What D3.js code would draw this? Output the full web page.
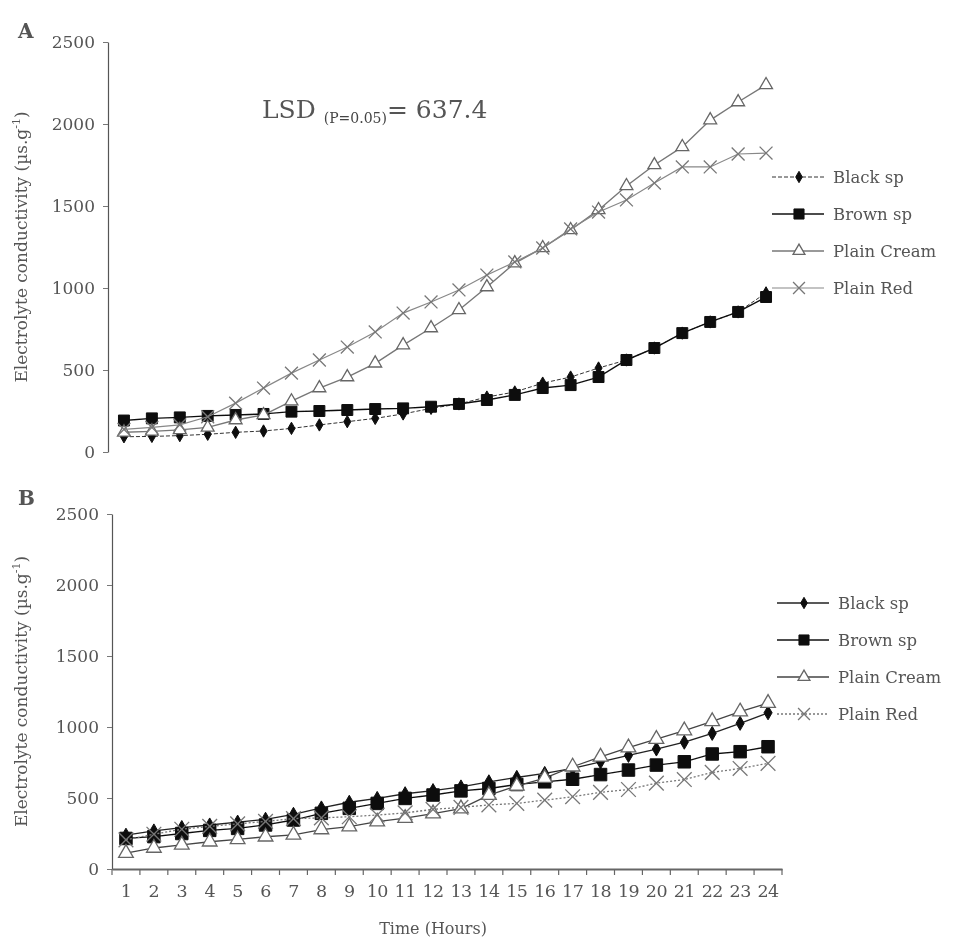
<!DOCTYPE html>
<html>
<head>
<meta charset="utf-8">
<script src="https://cdn.jsdelivr.net/npm/d3@7"></script>
<style>
  html, body { margin: 0; padding: 0; background: #fff; }
  svg { display: block; }
  text { font-family: "DejaVu Serif", "Liberation Serif", serif; fill: #555; }
</style>
</head>
<body>
<script>
// Hours of measurement
const hours = d3.range(1, 25);
const yTicks = [0, 500, 1000, 1500, 2000, 2500];
const seriesNames = ["Black sp", "Brown sp", "Plain Cream", "Plain Red"];

// Panel A: electrolyte conductivity (µs.g-1)
const blackA = [93, 95, 100, 108, 120, 128, 144, 165, 185, 205, 232, 266, 293, 335, 366, 420, 457, 512, 561, 634, 725, 793, 854, 970];
const brownA = [192, 205, 211, 220, 226, 232, 246, 250, 256, 262, 266, 276, 293, 317, 348, 390, 408, 457, 561, 634, 725, 793, 854, 945];
const creamA = [120, 126, 135, 150, 195, 226, 310, 390, 457, 541, 652, 756, 866, 1006, 1152, 1244, 1354, 1476, 1622, 1750, 1860, 2024, 2134, 2238];
const redA   = [138, 150, 165, 215, 298, 390, 481, 561, 640, 732, 847, 915, 988, 1079, 1159, 1244, 1360, 1463, 1537, 1640, 1738, 1738, 1817, 1823];

// Panel B: electrolyte conductivity (µs.g-1)
const blackB = [238, 268, 292, 310, 330, 350, 385, 430, 470, 497, 530, 552, 578, 614, 645, 673, 708, 755, 800, 845, 893, 955, 1026, 1100];
const brownB = [215, 228, 250, 272, 286, 310, 345, 392, 427, 462, 497, 521, 550, 567, 595, 614, 632, 665, 697, 732, 755, 810, 826, 861];
const creamB = [112, 148, 170, 192, 208, 227, 240, 278, 298, 333, 358, 390, 425, 520, 585, 640, 720, 790, 855, 915, 975, 1040, 1108, 1168];
const redB   = [205, 245, 280, 300, 318, 335, 355, 360, 368, 380, 395, 420, 434, 451, 462, 485, 509, 540, 560, 605, 630, 680, 708, 744];

const W = 964, H = 943;
const svg = d3.select("body").append("svg").attr("width", W).attr("height", H);

const defs = svg.append("defs");
defs.append("filter").attr("id", "soft")
  .append("feGaussianBlur").attr("stdDeviation", 0.45);

const root = svg.append("g").attr("filter", "url(#soft)");

// marker shapes
function drawMarker(g, kind, cx, cy, scale) {
  const s = scale || 1;
  if (kind === "diamond") {
    g.append("path").attr("d", d3.symbol().type(d3.symbolDiamond).size(44 * s)())
      .attr("transform", `translate(${cx},${cy})`).attr("fill", "#111").attr("stroke", "#111");
  } else if (kind === "square") {
    g.append("path").attr("d", d3.symbol().type(d3.symbolSquare).size(120 * s)())
      .attr("transform", `translate(${cx},${cy})`).attr("fill", "#111").attr("stroke", "#111");
  } else if (kind === "triangle") {
    g.append("path").attr("d", d3.symbol().type(d3.symbolTriangle).size(72 * s)())
      .attr("transform", `translate(${cx},${cy})`).attr("fill", "#fff").attr("stroke", "#666").attr("stroke-width", 1.3);
  } else {
    g.append("path").attr("d", d3.symbol().type(d3.symbolX).size(110 * s)())
      .attr("transform", `translate(${cx},${cy})`).attr("fill", "none").attr("stroke", "#777").attr("stroke-width", 1.3);
  }
}

function panel(opts) {
  const x = d3.scaleBand().domain(hours).range(opts.xRange).padding(0);
  const y = d3.scaleLinear().domain([0, 2500]).range(opts.yRange);
  const cx = h => x(h) + x.bandwidth() / 2;
  const g = root.append("g");

  // y axis
  const ya = g.append("g").attr("transform", `translate(${opts.xRange[0] - opts.axisGap},0)`)
    .call(d3.axisLeft(y).tickValues(yTicks).tickFormat(d3.format("d"))
      .tickSize(5).tickSizeOuter(0).tickPadding(8));
  ya.select(".domain").attr("stroke", "#555").attr("stroke-width", 1.2);
  ya.selectAll(".tick line").attr("stroke", "#777");
  ya.selectAll(".tick text").style("font-size", "17px").attr("fill", "#555")
    .style("font-family", "'DejaVu Serif', serif");

  // y axis title
  const midY = (opts.yRange[0] + opts.yRange[1]) / 2;
  g.append("text")
    .attr("transform", `translate(27,${midY}) rotate(-90)`)
    .attr("text-anchor", "middle").style("font-size", "17px").attr("fill", "#555")
    .html("Electrolyte conductivity (µs.g<tspan dy='-7' font-size='11'>-1</tspan><tspan dy='7'>)</tspan>");

  // panel letter
  g.append("text").attr("x", opts.letterPos[0]).attr("y", opts.letterPos[1])
    .style("font-size", "20px").style("font-weight", "bold").attr("fill", "#222").text(opts.letter);

  // series lines + markers
  opts.series.forEach(s => {
    const line = d3.line().x((d, i) => cx(hours[i])).y(d => y(d));
    g.append("path").datum(s.values).attr("d", line)
      .attr("fill", "none").attr("stroke", s.stroke).attr("stroke-width", s.width)
      .attr("stroke-dasharray", s.dash || null);
    const mg = g.append("g");
    s.values.forEach((v, i) => drawMarker(mg, s.marker, cx(hours[i]), y(v), opts.markerScale));
  });

  // legend
  opts.series.forEach((s, i) => {
    const ly = opts.legend.y0 + i * opts.legend.dy;
    g.append("line").attr("x1", opts.legend.x0).attr("x2", opts.legend.x0 + 52)
      .attr("y1", ly).attr("y2", ly).attr("stroke", s.stroke).attr("stroke-width", s.width)
      .attr("stroke-dasharray", s.dash || null);
    const lm = g.append("g");
    drawMarker(lm, s.marker, opts.legend.x0 + 27, ly, 0.85);
    g.append("text").attr("x", opts.legend.x0 + 61).attr("y", ly + 6)
      .style("font-size", "16.5px").attr("fill", "#444").text(s.name);
  });

  return { g, x, y, cx };
}

// ---- Panel A ----
const A = panel({
  letter: "A", letterPos: [18, 38],
  xRange: [110, 780], yRange: [452, 42], axisGap: 2, markerScale: 1,
  legend: { x0: 772, y0: 177, dy: 37 },
  series: [
    { name: seriesNames[0], values: blackA, marker: "diamond", stroke: "#333", width: 1, dash: "4,2" },
    { name: seriesNames[1], values: brownA, marker: "square", stroke: "#111", width: 1.4 },
    { name: seriesNames[2], values: creamA, marker: "triangle", stroke: "#777", width: 1.4 },
    { name: seriesNames[3], values: redA, marker: "x", stroke: "#888", width: 1.2 }
  ]
});

// LSD annotation
A.g.append("text").attr("x", 262).attr("y", 118).style("font-size", "25px").attr("fill", "#333")
  .html("LSD <tspan font-size='14' dy='5' fill='#444'>(P=0.05)</tspan><tspan dy='-5'>= 637.4</tspan>");

// ---- Panel B ----
const B = panel({
  letter: "B", letterPos: [18, 505],
  xRange: [112, 782], yRange: [869, 514], axisGap: 0, markerScale: 1.3,
  legend: { x0: 777, y0: 603, dy: 37 },
  series: [
    { name: seriesNames[0], values: blackB, marker: "diamond", stroke: "#222", width: 1.3 },
    { name: seriesNames[1], values: brownB, marker: "square", stroke: "#111", width: 1.3 },
    { name: seriesNames[2], values: creamB, marker: "triangle", stroke: "#444", width: 1.3 },
    { name: seriesNames[3], values: redB, marker: "x", stroke: "#777", width: 1.3, dash: "2,2" }
  ]
});

// x axis of panel B: line, boundary ticks and hour labels
const xa = B.g.append("g").attr("transform", "translate(0,869)")
  .call(d3.axisBottom(B.x).tickSize(0).tickPadding(16));
xa.select(".domain").attr("stroke", "#666").attr("stroke-width", 2.2);
xa.selectAll(".tick text").style("font-size", "17.5px").attr("fill", "#555")
  .style("font-family", "'DejaVu Serif', serif").attr("letter-spacing", "-0.6px");
const bounds = hours.map(h => B.x(h)).concat([B.x.range()[1]]);
xa.selectAll(".bound").data(bounds).enter().append("line").attr("class", "bound")
  .attr("x1", d => d).attr("x2", d => d).attr("y1", 0).attr("y2", 6)
  .attr("stroke", "#666").attr("stroke-width", 1.2);

B.g.append("text").attr("x", 433).attr("y", 934).attr("text-anchor", "middle")
  .style("font-size", "16px").attr("fill", "#555").text("Time (Hours)");
</script>
</body>
</html>
